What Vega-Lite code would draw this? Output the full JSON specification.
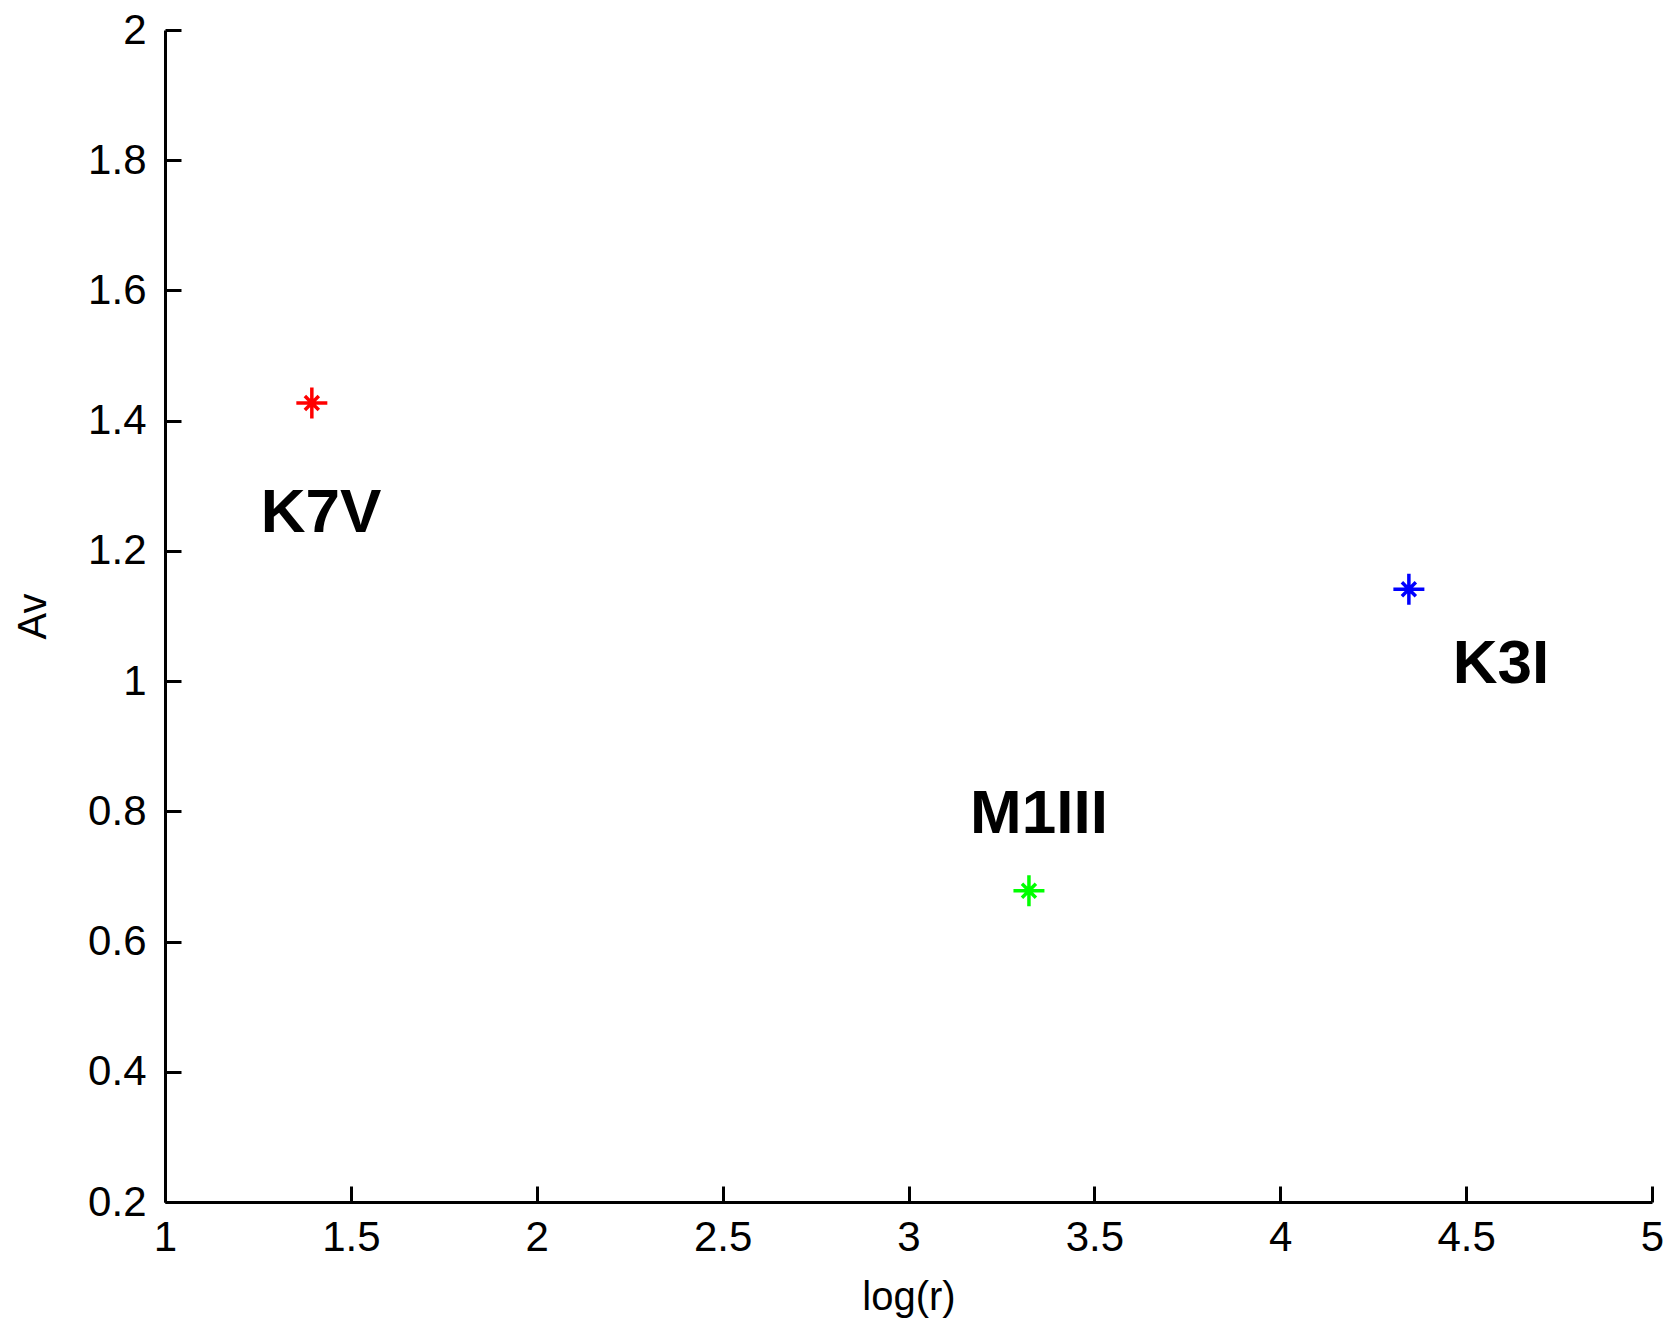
{
  "$schema": "https://vega.github.io/schema/vega-lite/v6.json",
  "width": 1487,
  "height": 1172,
  "autosize": {"type": "none"},
  "padding": {"left": 165, "top": 30, "right": 18, "bottom": 125},
  "background": "white",
  "config": {
    "view": {"stroke": null},
    "axis": {
      "grid": false,
      "domainColor": "black",
      "domainWidth": 3,
      "tickColor": "black",
      "tickWidth": 3,
      "tickSize": -16,
      "labelFont": "Liberation Sans",
      "labelFontSize": 42,
      "labelColor": "black",
      "titleFont": "Liberation Sans",
      "titleFontSize": 40,
      "titleFontWeight": "normal",
      "titleColor": "black",
      "labelFlush": false,
      "labelOverlap": false
    }
  },
  "data": {
    "values": [
      {"name": "K7V", "logr": 1.395, "av": 1.427, "lx": 1.42, "ly": 1.229, "c": "red"},
      {"name": "M1III", "logr": 3.324, "av": 0.678, "lx": 3.351, "ly": 0.767, "c": "green"},
      {"name": "K3I", "logr": 4.346, "av": 1.141, "lx": 4.594, "ly": 0.997, "c": "blue"}
    ]
  },
  "layer": [
    {
      "mark": {
        "type": "point",
        "shape": "M-1,0H1M0,-1V1M-0.45,-0.45L0.45,0.45M-0.45,0.45L0.45,-0.45",
        "size": 961,
        "filled": false,
        "strokeWidth": 3.5,
        "opacity": 1
      },
      "encoding": {
        "x": {
          "field": "logr",
          "type": "quantitative",
          "scale": {"domain": [1, 5], "nice": false, "zero": false},
          "axis": {"values": [1, 1.5, 2, 2.5, 3, 3.5, 4, 4.5, 5], "format": "~g", "title": "log(r)", "labelPadding": 31, "titlePadding": 19}
        },
        "y": {
          "field": "av",
          "type": "quantitative",
          "scale": {"domain": [0.2, 2], "nice": false, "zero": false},
          "axis": {"values": [0.2, 0.4, 0.6, 0.8, 1, 1.2, 1.4, 1.6, 1.8, 2], "format": "~g", "title": "Av", "labelPadding": 35, "titlePadding": 34}
        },
        "color": {
          "field": "c",
          "type": "nominal",
          "scale": {"domain": ["red", "green", "blue"], "range": ["#ff0000", "#00ff00", "#0000ff"]},
          "legend": null
        }
      }
    },
    {
      "mark": {
        "type": "text",
        "font": "Liberation Sans",
        "fontWeight": "bold",
        "fontSize": 62,
        "align": "center",
        "baseline": "alphabetic",
        "color": "black"
      },
      "encoding": {
        "x": {"field": "lx", "type": "quantitative"},
        "y": {"field": "ly", "type": "quantitative"},
        "text": {"field": "name"}
      }
    }
  ]
}
